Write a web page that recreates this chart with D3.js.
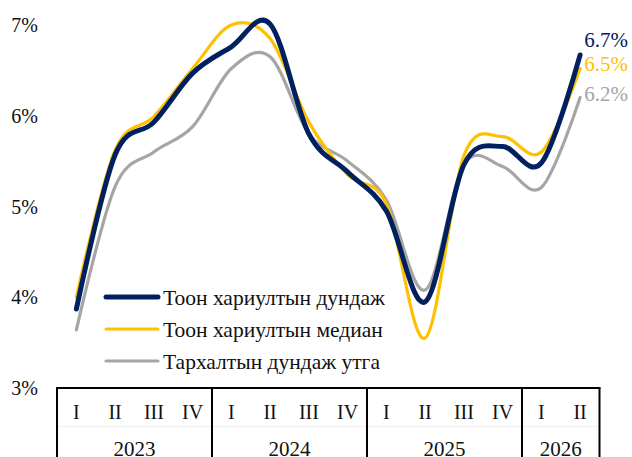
<!DOCTYPE html>
<meta charset="utf-8">
<style>
  body { margin: 0; background: #fff; }
  #chart { font-family: "Liberation Serif", "Times New Roman", serif; }
</style>
<body>
<div id="chart"></div>
<script src="https://d3js.org/d3.v7.min.js"></script>
<script>

// quarters on the x axis and the year each belongs to
var quarters = ["I","II","III","IV","I","II","III","IV","I","II","III","IV","I","II"];
var years = ["2023","2023","2023","2023","2024","2024","2024","2024","2025","2025","2025","2025","2026","2026"];
var yTicks = [3, 4, 5, 6, 7];

// series values, in percent
var meanVals   = [3.87, 5.57, 5.93, 6.47, 6.76, 7.01, 5.80, 5.38, 4.95, 3.95, 5.46, 5.66, 5.48, 6.67];
var medianVals = [4.00, 5.62, 5.99, 6.52, 7.00, 6.85, 5.93, 5.35, 5.03, 3.55, 5.56, 5.77, 5.60, 6.52];
var distVals   = [3.64, 5.22, 5.60, 5.88, 6.52, 6.65, 5.80, 5.50, 5.07, 4.08, 5.46, 5.44, 5.21, 6.20];

var names = ["Тоон хариултын дундаж", "Тоон хариултын медиан", "Тархалтын дундаж утга"];
var endLabels = ["6.7%", "6.5%", "6.2%"];

var W = 632, H = 457;
var m = {left: 57, right: 599.5, top: 25, bottom: 388};

var svg = d3.select("#chart").append("svg")
  .attr("width", W)
  .attr("height", H);

var idx = d3.range(quarters.length);

var x = d3.scaleBand()
  .domain(idx)
  .range([m.left, m.right])
  .padding(0);

var y = d3.scaleLinear()
  .domain([3, 7])
  .range([m.bottom, m.top]);

var cx = function(i) { return x(i) + x.bandwidth() / 2; };

// y tick labels
svg.append("g").selectAll("text")
  .data(yTicks)
  .enter().append("text")
    .attr("x", 38)
    .attr("y", function(d) { return y(d); })
    .attr("dy", "0.35em")
    .attr("text-anchor", "end")
    .style("font-size", "20px")
    .style("fill", "#111")
    .text(function(d) { return d + "%"; });

// series
var series = [
  {name: names[0], vals: meanVals,   color: "#002060", w: 5,   label: endLabels[0], dy: -15},
  {name: names[1], vals: medianVals, color: "#FFC000", w: 3.2, label: endLabels[1], dy: -5},
  {name: names[2], vals: distVals,   color: "#A5A5A5", w: 3.2, label: endLabels[2], dy: -4}
];

var line = d3.line()
  .x(function(d, i) { return cx(i); })
  .y(function(d) { return y(d); })
  .curve(d3.curveCardinal.tension(0));

// draw gray first, then yellow, navy on top
series.slice().reverse().forEach(function(s) {
  svg.append("path")
    .datum(s.vals)
    .attr("d", line)
    .attr("fill", "none")
    .attr("stroke", s.color)
    .attr("stroke-width", s.w)
    .attr("stroke-linecap", "round")
    .attr("stroke-linejoin", "round");
});

// end value labels
series.forEach(function(s) {
  var last = s.vals.length - 1;
  svg.append("text")
    .attr("x", cx(last) + 4)
    .attr("y", y(s.vals[last]) + s.dy)
    .attr("dy", "0.35em")
    .style("font-size", "21px")
    .style("fill", s.color)
    .text(s.label);
});

// legend
var legend = svg.append("g");
series.forEach(function(s, i) {
  var ly = 297 + i * 32;
  legend.append("line")
    .attr("x1", 106).attr("x2", 158)
    .attr("y1", ly).attr("y2", ly)
    .attr("stroke", s.color)
    .attr("stroke-width", s.w)
    .attr("stroke-linecap", "round");
  legend.append("text")
    .attr("x", 163)
    .attr("y", ly)
    .attr("dy", "0.35em")
    .style("font-size", "21.5px")
    .style("fill", "#111")
    .text(s.name);
});

// category axis table
var axis = svg.append("g");

axis.append("line")
  .attr("x1", m.left).attr("x2", m.right)
  .attr("y1", 426.7).attr("y2", 426.7)
  .attr("stroke", "#eee")
  .attr("stroke-width", 1);

axis.append("line")
  .attr("x1", m.left - 1).attr("x2", m.right + 1)
  .attr("y1", m.bottom).attr("y2", m.bottom)
  .attr("stroke", "#000")
  .attr("stroke-width", 2);

axis.selectAll(".q")
  .data(idx)
  .enter().append("text")
    .attr("class", "q")
    .attr("x", cx)
    .attr("y", 419)
    .attr("text-anchor", "middle")
    .style("font-size", "20px")
    .style("fill", "#111")
    .text(function(i) { return quarters[i]; });

// year groups
var groups = d3.groups(idx, function(i) { return years[i]; });
var bounds = [m.left];
groups.forEach(function(g) {
  var a = g[1][0], b = g[1][g[1].length - 1];
  var x0 = x(a), x1 = x(b) + x.bandwidth();
  bounds.push(x1);
  axis.append("text")
    .attr("x", (x0 + x1) / 2)
    .attr("y", 456)
    .attr("text-anchor", "middle")
    .style("font-size", "21px")
    .style("fill", "#111")
    .text(g[0]);
});

axis.selectAll(".sep")
  .data(bounds)
  .enter().append("line")
    .attr("class", "sep")
    .attr("x1", function(d) { return d; })
    .attr("x2", function(d) { return d; })
    .attr("y1", m.bottom)
    .attr("y2", H)
    .attr("stroke", "#000")
    .attr("stroke-width", 2);

</script>
</body>
